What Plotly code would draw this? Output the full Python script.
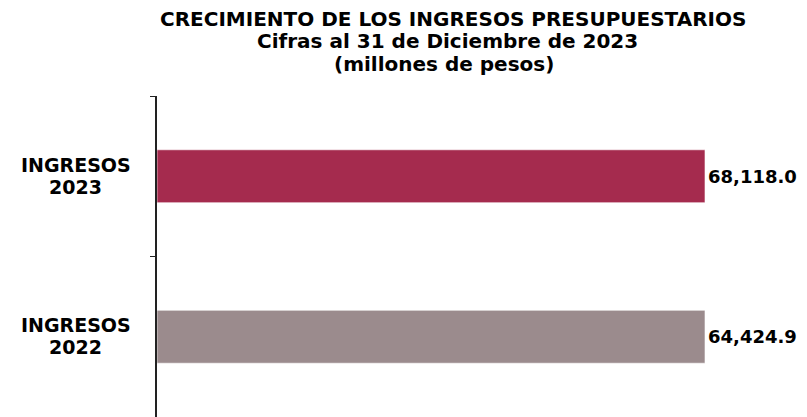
import plotly.graph_objects as go

categories = ["INGRESOS<br>2023", "INGRESOS<br>2022"]
values = [68118.0, 64424.9]
colors = ["#A52B4E", "#9B8B8D"]

title_lines = ["CRECIMIENTO DE LOS INGRESOS PRESUPUESTARIOS",
               "Cifras al 31 de Diciembre de 2023",
               "(millones de pesos)"]

FONT = "DejaVu Sans, Verdana, sans-serif"

W, H = 807, 417
ML, MR, MT, MB = 149, 110, 88, 8
PW = W - ML - MR

fig = go.Figure()
axes = ["x", "x2"]
for cat, val, col, ax in zip(categories, values, colors, axes):
    fig.add_trace(go.Bar(
        x=[val], y=[cat], orientation="h", xaxis=ax, yaxis="y",
        marker=dict(color=col, line=dict(color="rgba(255,255,255,0.6)", width=1)),
        width=0.33,
        texttemplate="<b>%{x:,.1f}</b>", textposition="outside",
        textfont=dict(family=FONT, size=18, color="black"),
        cliponaxis=False, showlegend=False,
    ))

fig.update_layout(
    width=W, height=H,
    margin=dict(l=ML, r=MR, t=MT, b=MB),
    paper_bgcolor="white", plot_bgcolor="white",
    barmode="overlay",
    xaxis=dict(range=[0, values[0]], visible=False, domain=[0, 1]),
    xaxis2=dict(range=[0, values[1]], visible=False, overlaying="x", domain=[0, 1]),
    yaxis=dict(categoryorder="array", categoryarray=categories, autorange="reversed",
               showline=True, linecolor="#222222", linewidth=1.5,
               ticks="outside", ticklen=5, tickcolor="#222222", tickwidth=1.2,
               tickson="boundaries", showticklabels=False, showgrid=False,
               zeroline=False),
    font=dict(family=FONT),
)

title_centers_x = [445, 439, 436]
title_centers_y = [11, 33, 56]
for line, cx, cy in zip(title_lines, title_centers_x, title_centers_y):
    fig.add_annotation(
        text="<b>%s</b>" % line,
        xref="paper", yref="paper", x=(cx - ML) / PW, y=1,
        yshift=MT - cy, yanchor="middle", xanchor="center", align="center",
        showarrow=False, font=dict(family=FONT, size=20, color="black"),
    )

line_shifts = [11.5, -10.5]
for cat in categories:
    for part, dy in zip(cat.split("<br>"), line_shifts):
        fig.add_annotation(
            text="<b>%s</b>" % part, xref="paper", yref="y",
            x=(68 - ML) / PW, y=cat, yshift=dy, xanchor="center", yanchor="middle",
            align="center", showarrow=False, borderpad=0,
            font=dict(family=FONT, size=19, color="black"),
        )

fig.write_html("out.html")
